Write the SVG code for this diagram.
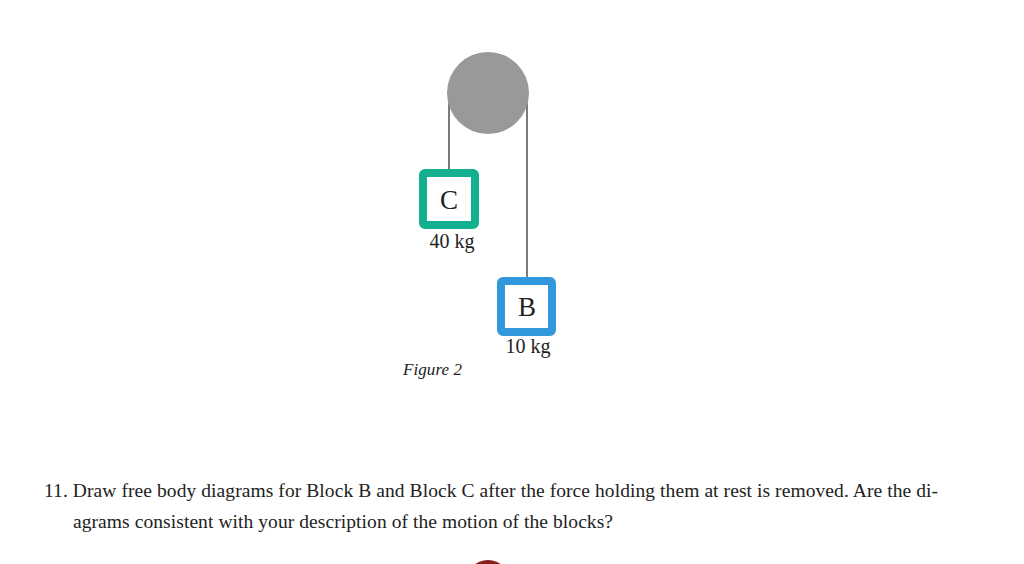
<svg xmlns="http://www.w3.org/2000/svg" width="1024" height="564" viewBox="0 0 1024 564">
<style>
.t{font-family:"Liberation Serif","Times New Roman",serif;fill:#222}
.s{stroke:#333;stroke-width:1.3}
</style>
<rect width="1024" height="564" fill="#fff"/>
<g id="connectors">
<line class="s" x1="449" y1="100" x2="449" y2="171"/>
<line class="s" x1="527" y1="100" x2="527" y2="278"/>
</g>
<g id="pulley"><circle cx="488" cy="93" r="41" fill="#999"/></g>
<g id="blockC">
<rect x="423" y="173" width="52" height="52" rx="2" fill="#fff" stroke="#13b08f" stroke-width="8"/>
<text class="t" x="449" y="209" font-size="27" text-anchor="middle">C</text>
<text class="t" x="452" y="248" font-size="20" text-anchor="middle">40 kg</text>
</g>
<g id="blockB">
<rect x="501" y="281" width="51" height="51" rx="2" fill="#fff" stroke="#3199db" stroke-width="8"/>
<text class="t" x="527" y="316" font-size="27" text-anchor="middle">B</text>
<text class="t" x="528" y="353" font-size="20" text-anchor="middle">10 kg</text>
</g>
<text class="t" x="403" y="375" font-size="17" font-style="italic" textLength="59">Figure 2</text>
<text class="t" x="44" y="497" font-size="19.5" textLength="894">11. Draw free body diagrams for Block B and Block C after the force holding them at rest is removed. Are the di-</text>
<text class="t" x="73" y="528" font-size="19.5" textLength="540">agrams consistent with your description of the motion of the blocks?</text>
<circle cx="488" cy="582" r="22" fill="#8a1c1c"/>
</svg>
